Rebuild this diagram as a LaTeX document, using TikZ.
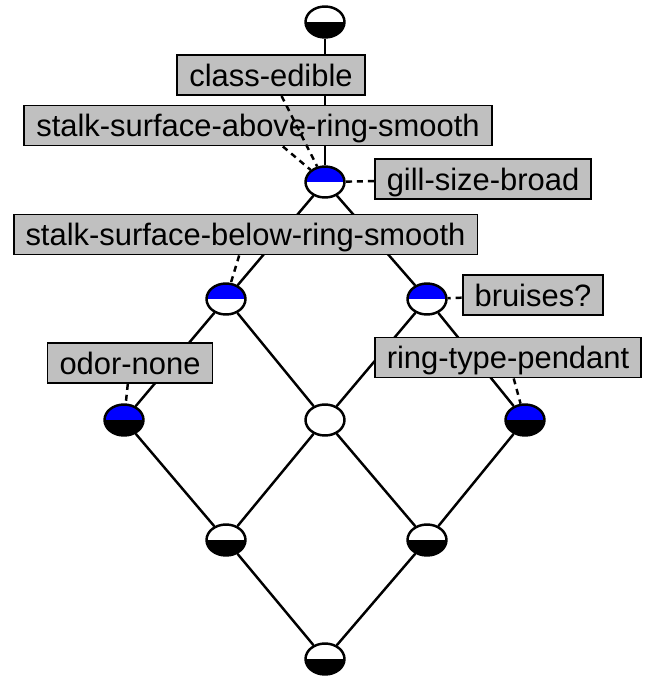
\documentclass[tikz,border=0pt]{standalone}
\usepackage{fontspec}
\setmainfont{Liberation Sans}
\usetikzlibrary{shapes.geometric}
\definecolor{cinza}{HTML}{C0C0C0}
\definecolor{azul}{HTML}{0000FF}

\begin{document}
\begin{tikzpicture}[x=0.02cm, y=-0.02cm, line width=1.4pt,
    conceito/.style 2 args={draw, ellipse, inner sep=0pt, minimum width=0.78cm, minimum height=0.62cm,
      path picture={
        \fill[#1] (path picture bounding box.north west) rectangle (path picture bounding box.east);
        \fill[#2] (path picture bounding box.west) rectangle (path picture bounding box.south east);}},
    rotulo/.style={draw, rectangle, fill=cinza, line width=1.1pt, minimum height=0.8cm,
      inner xsep=0.24cm, inner ysep=0pt, text height=12.7pt, text depth=0pt,
      font=\fontsize{17.6}{20}\selectfont},
    ligacao/.style={dash pattern=on 3.4pt off 2.8pt}]
    \useasboundingbox (0,0) rectangle (649,676);

    % Conceitos do reticulado
    \node[conceito={white}{black}] (c0) at (325,22) {};
    \node[conceito={azul}{white}] (c1) at (325,182) {};
    \node[conceito={azul}{white}] (c2) at (226,299) {};
    \node[conceito={azul}{white}] (c3) at (427,299) {};
    \node[conceito={azul}{black}] (c4) at (124,420) {};
    \node[conceito={white}{white}] (c5) at (325,420) {};
    \node[conceito={azul}{black}] (c6) at (525,420) {};
    \node[conceito={white}{black}] (c7) at (226,540) {};
    \node[conceito={white}{black}] (c8) at (427,540) {};
    \node[conceito={white}{black}] (c9) at (325,659) {};

    % Arestas
    \draw (c0) -- (c1);
    \draw (c1) -- (c2);
    \draw (c1) -- (c3);
    \draw (c2) -- (c4);
    \draw (c2) -- (c5);
    \draw (c3) -- (c5);
    \draw (c3) -- (c6);
    \draw (c4) -- (c7);
    \draw (c5) -- (c7);
    \draw (c5) -- (c8);
    \draw (c6) -- (c8);
    \draw (c7) -- (c9);
    \draw (c8) -- (c9);

    % Rótulos dos atributos
    \node[rotulo] (r1) at (271,75) {class-edible};
    \node[rotulo] (r2) at (258,125.5) {stalk-surface-above-ring-smooth};
    \node[rotulo] (r3) at (483,179) {gill-size-broad};
    \node[rotulo] (r4) at (245.5,234.5) {stalk-surface-below-ring-smooth};
    \node[rotulo] (r5) at (533,295) {bruises?};
    \node[rotulo] (r6) at (130,363) {odor-none};
    \node[rotulo] (r7) at (508,357.5) {ring-type-pendant};

    % Ligações tracejadas
    \draw[ligacao] (r1) -- (c1);
    \draw[ligacao] (r2) -- (c1);
    \draw[ligacao] (r3) -- (c1);
    \draw[ligacao] (r4) -- (c2);
    \draw[ligacao] (r5) -- (c3);
    \draw[ligacao] (r6) -- (c4);
    \draw[ligacao] (r7) -- (c6);
  \end{tikzpicture}
\end{document}
